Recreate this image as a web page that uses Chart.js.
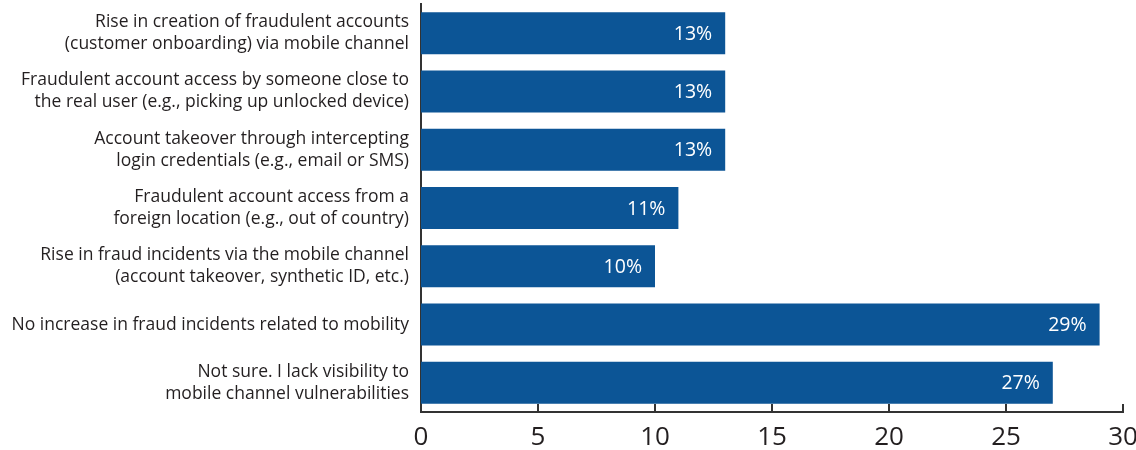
<!DOCTYPE html>
<html>
<head>
<meta charset="utf-8">
<script src="https://cdn.jsdelivr.net/npm/chart.js@4/dist/chart.umd.min.js"></script>
<style>
  html, body { margin: 0; padding: 0; background: #fff; }
  #wrap { width: 1136px; height: 450px; }
</style>
</head>
<body>
<div id="wrap"><canvas id="fraudChart"></canvas></div>
<script>
// Survey responses: mobile fraud trends (% of respondents)
const categories = [
    ['Rise in creation of fraudulent accounts', '(customer onboarding) via mobile channel'],
    ['Fraudulent account access by someone close to', 'the real user (e.g., picking up unlocked device)'],
    ['Account takeover through intercepting', 'login credentials (e.g., email or SMS)'],
    ['Fraudulent account access from a', 'foreign location (e.g., out of country)'],
    ['Rise in fraud incidents via the mobile channel', '(account takeover, synthetic ID, etc.)'],
    'No increase in fraud incidents related to mobility',
    ['Not sure. I lack visibility to', 'mobile channel vulnerabilities']
];
const shares = [13, 13, 13, 11, 10, 29, 27];
const xTicks = [0, 5, 10, 15, 20, 25, 30];

const BAR_COLOR = '#0c5596';
const TEXT_COLOR = '#231f20';
const AXIS_COLOR = '#333333';

// white % label inside the right end of each bar
const valueLabels = {
    id: 'valueLabels',
    afterDatasetsDraw(chart) {
        const ctx = chart.ctx;
        const meta = chart.getDatasetMeta(0);
        ctx.save();
        ctx.fillStyle = '#ffffff';
        ctx.font = '19.5px "Open Sans", sans-serif';
        ctx.textAlign = 'right';
        ctx.textBaseline = 'middle';
        meta.data.forEach((bar, i) => {
            ctx.fillText(shares[i] + '%', bar.x - 13, bar.y + 1);
        });
        ctx.restore();
    }
};

// short tick marks pointing up from the x axis
const innerTicks = {
    id: 'innerTicks',
    afterDraw(chart) {
        const ctx = chart.ctx;
        const x = chart.scales.x;
        const bottom = chart.chartArea.bottom;
        ctx.save();
        ctx.strokeStyle = AXIS_COLOR;
        ctx.lineWidth = 2;
        xTicks.forEach(v => {
            const px = Math.round(x.getPixelForValue(v));
            ctx.beginPath();
            ctx.moveTo(px, bottom - 8);
            ctx.lineTo(px, bottom);
            ctx.stroke();
        });
        ctx.restore();
    }
};

new Chart(document.getElementById('fraudChart'), {
    type: 'bar',
    data: {
        labels: categories,
        datasets: [{
            data: shares,
            backgroundColor: BAR_COLOR,
            borderWidth: 0,
            categoryPercentage: 0.72,
            barPercentage: 1
        }]
    },
    options: {
        indexAxis: 'y',
        responsive: true,
        maintainAspectRatio: false,
        animation: false,
        layout: { padding: { top: 4, right: 13, bottom: 0, left: 0 } },
        plugins: {
            legend: { display: false },
            tooltip: { enabled: false }
        },
        scales: {
            x: {
                min: 0,
                max: 30,
                afterBuildTicks: scale => {
                    scale.ticks = xTicks.map(v => ({ value: v }));
                },
                grid: { display: false, drawTicks: false },
                border: { display: true, color: AXIS_COLOR, width: 2 },
                ticks: {
                    color: TEXT_COLOR,
                    padding: 10,
                    font: { family: '"Open Sans", sans-serif', size: 26 }
                },
                afterFit: scale => {
                    scale.height = 38;
                    scale.paddingLeft = 0;
                    scale.paddingRight = 0;
                }
            },
            y: {
                grid: { display: false, drawTicks: false },
                border: { display: true, color: AXIS_COLOR, width: 2 },
                ticks: {
                    color: TEXT_COLOR,
                    padding: 12,
                    font: { family: '"Open Sans", sans-serif', size: 17.5, lineHeight: 1.26 }
                },
                afterFit: scale => {
                    scale.width = 421;
                    scale.paddingTop = 0;
                    scale.paddingBottom = 0;
                }
            }
        }
    },
    plugins: [valueLabels, innerTicks]
});
</script>
</body>
</html>
